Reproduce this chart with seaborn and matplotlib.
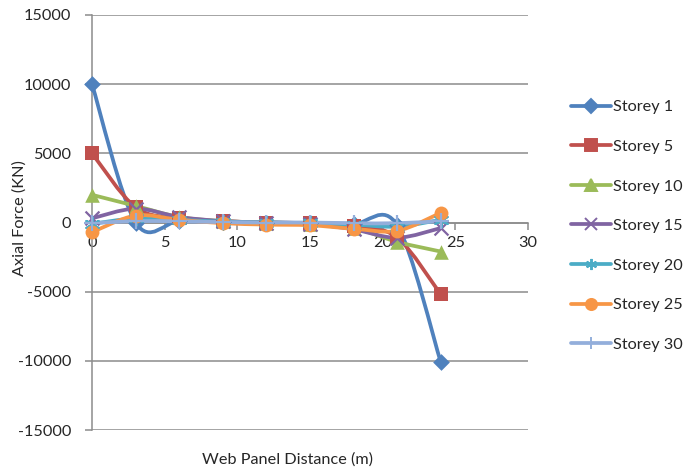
import numpy as np
import matplotlib
matplotlib.use("Agg")
import matplotlib.pyplot as plt
from matplotlib.path import Path
from matplotlib.patches import PathPatch
from matplotlib.lines import Line2D
import seaborn as sns

# Panel positions along the web (m)
distance = [0, 3, 6, 9, 12, 15, 18, 21, 24]

# Axial force per storey (kN)
storey_1 = [10000, 0, 100, 50, 0, -50, -100, -200, -10100]
storey_5 = [5000, 1100, 300, 100, 0, -50, -250, -1100, -5200]
storey_10 = [2000, 1200, 400, 100, 0, -100, -400, -1400, -2100]
storey_15 = [300, 1000, 400, 100, 0, -100, -500, -1100, -400]
storey_20 = [-100, 300, 200, 50, 0, -50, -150, -300, 200]
storey_25 = [-700, 500, 200, -50, -150, -200, -450, -600, 700]
storey_30 = [-50, 100, 80, 30, 0, 0, -50, -50, 100]

labels = ["Storey 1", "Storey 5", "Storey 10", "Storey 15",
          "Storey 20", "Storey 25", "Storey 30"]
series = [storey_1, storey_5, storey_10, storey_15,
          storey_20, storey_25, storey_30]
colors = ["#4F81BD", "#C0504D", "#9BBB59", "#8064A2",
          "#4BACC6", "#F79646", "#93AEDB"]
markers = ["D", "s", "^", "x", (6, 2, 0), "o", "+"]
msizes = [8.5, 10, 10.5, 10, 10, 10, 11]

y_ticks = [15000, 10000, 5000, 0, -5000, -10000, -15000]
x_ticks = [0, 5, 10, 15, 20, 25, 30]

sns.set_theme(style="white")
plt.rcParams["font.family"] = ["Lato", "DejaVu Sans"]
text_color = "#262626"
fs = 11.7


def smooth_path(xs, ys):
    """Cubic Bezier path through the points (spreadsheet-style smoothing)."""
    pts = np.column_stack([xs, ys]).astype(float)
    n = len(pts)
    verts = [pts[0]]
    codes = [Path.MOVETO]
    for i in range(n - 1):
        p_prev = pts[i - 1] if i > 0 else pts[i]
        p0, p1 = pts[i], pts[i + 1]
        p_next = pts[i + 2] if i + 2 < n else pts[i + 1]
        c1 = p0 + (p1 - p_prev) / 6.0
        c2 = p1 - (p_next - p0) / 6.0
        verts += [c1, c2, p1]
        codes += [Path.CURVE4] * 3
    return Path(np.array(verts), codes)


fig = plt.figure(figsize=(6.97, 4.71), dpi=100)
ax = fig.add_axes([92 / 697, 1 - 430 / 471, (528 - 92) / 697, (430 - 15) / 471])

for ys, lab, col, mk, ms in zip(series, labels, colors, markers, msizes):
    ax.add_patch(PathPatch(smooth_path(distance, ys), facecolor="none",
                           edgecolor=col, lw=2.7, capstyle="round",
                           joinstyle="round", clip_on=False, zorder=2))
    filled = mk not in ("x", "+", (6, 2, 0))
    sns.scatterplot(x=distance, y=ys, ax=ax, marker=mk, s=ms ** 2,
                    color=col, edgecolor=col if filled else None,
                    linewidth=0 if filled else 1.6, legend=False,
                    zorder=3, clip_on=False)

ax.set_xlim(0, 30)
ax.set_ylim(-15000, 15000)
ax.set_xticks(x_ticks)
ax.set_yticks(y_ticks)
ax.set_xticklabels([str(v) for v in x_ticks])
ax.set_yticklabels([str(v) for v in y_ticks])

ax.yaxis.grid(True, color="#8C8C8C", lw=1.1)
ax.xaxis.grid(False)
for side in ("top", "right"):
    ax.spines[side].set_visible(False)
ax.spines["left"].set_color("#8C8C8C")
ax.spines["left"].set_linewidth(1.1)
ax.spines["bottom"].set_position(("data", 0))
ax.spines["bottom"].set_color("#8C8C8C")
ax.spines["bottom"].set_linewidth(1.1)
ax.spines["bottom"].set_zorder(1)

ax.tick_params(axis="both", which="both", length=5, width=1.1,
               color="#8C8C8C", labelsize=fs, labelcolor=text_color)
ax.tick_params(axis="x", direction="out", pad=5, bottom=True)
ax.tick_params(axis="y", direction="out", left=True, pad=10)

fig.text(20 / 697, 1 - 218 / 471, "Axial Force (KN)", rotation=90,
         ha="center", va="center", fontsize=fs, color=text_color)
fig.text(288 / 697, 1 - 460 / 471, "Web Panel Distance (m)",
         ha="center", va="center", fontsize=fs, color=text_color)

handles = []
for lab, col, mk, ms in zip(labels, colors, markers, msizes):
    handles.append(Line2D([0], [0], color=col, lw=2.7, marker=mk,
                          markersize=ms * 0.8, markerfacecolor=col,
                          markeredgecolor=col, markeredgewidth=1.4,
                          label=lab))
fig.legend(handles=handles, loc="upper left",
           bbox_to_anchor=(563 / 697, 1 - 92 / 471), frameon=False,
           fontsize=fs, labelspacing=1.55, handlelength=2.45,
           handletextpad=0.1, borderpad=0, labelcolor=text_color)

fig.savefig("out.png", dpi=100)
